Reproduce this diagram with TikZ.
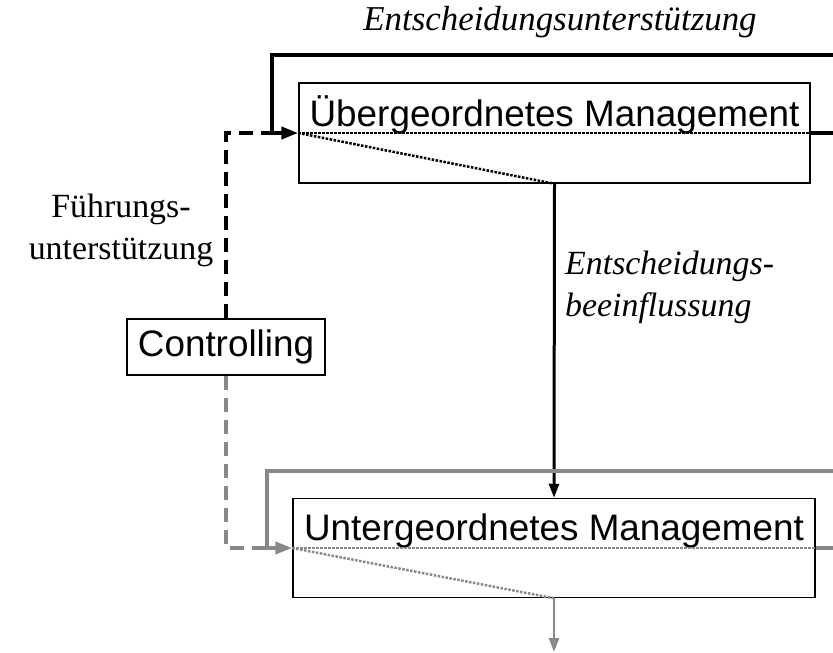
\documentclass[tikz,border=0pt]{standalone}
\usepackage{fontspec}
\setmainfont{Liberation Serif}
\newfontfamily\arialfont{Liberation Sans}
\usetikzlibrary{arrows.meta}
\definecolor{grau}{RGB}{136,136,136}
\begin{document}
\begin{tikzpicture}[x=1bp,y=-1bp,
  kasten/.style={draw,line width=1.5bp,inner sep=0pt,font=\arialfont\fontsize{37}{40}\selectfont},
  beschr/.style={inner sep=0pt,font=\fontsize{34}{42}\selectfont},
  schleife/.style={line width=4bp,-{Triangle[length=17bp,width=12bp]}},
  pfeil/.style={line width=3bp,-{Triangle[length=14bp,width=10bp]}},
  gestr/.style={line width=3.5bp,dash pattern=on 14bp off 8bp},
  punkt/.style={line width=2.5bp,dash pattern=on 2.5bp off 1.5bp}]
\useasboundingbox (0,0) rectangle (833,653);
\clip (0,0) rectangle (833,653);
% Kaesten
\node[kasten,minimum width=511bp,text height=44bp,text depth=56bp] (ueber) at (554.5,133) {Übergeordnetes Management};
\node[kasten,minimum width=522bp,text height=42bp,text depth=57bp] (unter) at (554,548) {Untergeordnetes Management};
\node[kasten,minimum width=198bp,minimum height=56bp] (ctrl) at (226,347) {Controlling};
% Hilfspunkte
\coordinate (oL) at (272,55);
\coordinate (oR) at (860,55);
\coordinate (uL) at (267,471);
\coordinate (uR) at (860,471);
\coordinate (jOben) at (oL |- ueber.west);
\coordinate (jUnten) at (uL |- unter.west);
\coordinate (aus) at (554,652);
% oben, schwarz
\draw[gestr] (ctrl.north) |- (jOben);
\draw[schleife] (ueber.east) -| (oR) -- (oL) |- (ueber.west);
\draw[punkt] (ueber.west) -- (ueber.east);
\draw[punkt] (ueber.west) -- (ueber.south);
\draw[pfeil] (ueber.south) -- (unter.north);
% unten, grau
\draw[gestr,grau] (ctrl.south) |- (jUnten);
\draw[schleife,grau] (unter.east) -| (uR) -- (uL) |- (unter.west);
\draw[punkt,grau] (unter.west) -- (unter.east);
\draw[punkt,grau] (unter.west) -- (unter.south);
\draw[pfeil,grau,line width=2.5bp] (unter.south) -- (aus);
% Beschriftungen
\node[beschr,anchor=base,font=\fontsize{35}{42}\selectfont\itshape] (entsch) at (560,31) {Entscheidungsunterstützung};
\node[beschr,align=center] (fuehr) at (121,230) {Führungs-\\unterstützung};
\node[beschr,align=left,anchor=west,font=\fontsize{34}{42}\selectfont\itshape] (beeinfl) at (565,287) {Entscheidungs-\\beeinflussung};
\end{tikzpicture}
\end{document}
